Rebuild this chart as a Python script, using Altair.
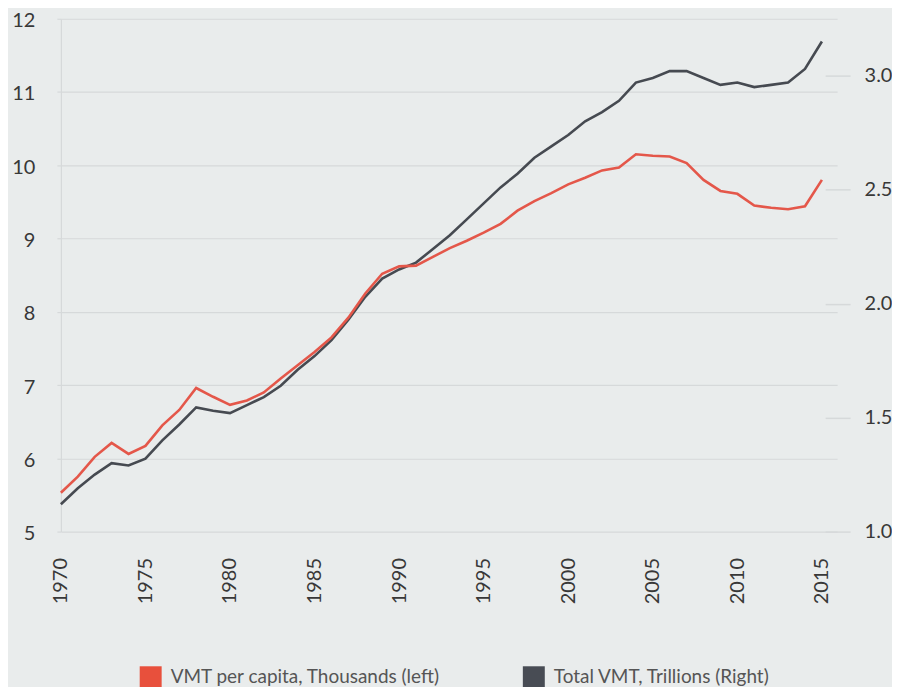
import altair as alt
import pandas as pd

years = [1970, 1971, 1972, 1973, 1974, 1975, 1976, 1977, 1978, 1979,
         1980, 1981, 1982, 1983, 1984, 1985, 1986, 1987, 1988, 1989,
         1990, 1991, 1992, 1993, 1994, 1995, 1996, 1997, 1998, 1999,
         2000, 2001, 2002, 2003, 2004, 2005, 2006, 2007, 2008, 2009,
         2010, 2011, 2012, 2013, 2014, 2015]

vmt_per_capita = [5.53, 5.75, 6.02, 6.21, 6.06, 6.17, 6.45, 6.66, 6.96, 6.84,
                  6.73, 6.79, 6.90, 7.09, 7.27, 7.45, 7.65, 7.92, 8.25, 8.52,
                  8.62, 8.63, 8.75, 8.87, 8.97, 9.08, 9.20, 9.38, 9.51, 9.62,
                  9.74, 9.83, 9.93, 9.97, 10.15, 10.13, 10.12, 10.03, 9.80, 9.65,
                  9.61, 9.45, 9.42, 9.40, 9.44, 9.80]

vmt_total = [1.12, 1.19, 1.25, 1.30, 1.29, 1.32, 1.40, 1.47, 1.545, 1.53,
             1.52, 1.555, 1.59, 1.64, 1.71, 1.77, 1.84, 1.93, 2.03, 2.11,
             2.15, 2.18, 2.24, 2.30, 2.37, 2.44, 2.51, 2.57, 2.64, 2.69,
             2.74, 2.80, 2.84, 2.89, 2.97, 2.99, 3.02, 3.02, 2.99, 2.96,
             2.97, 2.95, 2.96, 2.97, 3.03, 3.15]

series_names = ["VMT per capita, Thousands (left)", "Total VMT, Trillions (Right)"]
series_colors = ["#e8503c", "#484c54"]

x_ticks = [1970, 1975, 1980, 1985, 1990, 1995, 2000, 2005, 2010, 2015]
left_ticks = [5, 6, 7, 8, 9, 10, 11, 12]
right_ticks = [1.0, 1.5, 2.0, 2.5, 3.0]

df = pd.DataFrame({"year": years, "percap": vmt_per_capita, "total": vmt_total})
legend_df = pd.DataFrame({"series": series_names})

FONT = "Lato"
GRID = "#d6d9da"
RED_LINE = "#e4574a"
DARK_LINE = "#464a51"

x_enc = alt.X(
    "year:Q",
    scale=alt.Scale(domain=[1970, 2015.9], nice=False, zero=False),
    axis=alt.Axis(values=x_ticks, format="d", labelAngle=270, tickSize=0,
                  labelPadding=26, domain=False, grid=False, title=None),
)

dark = alt.Chart(df).mark_line(color=DARK_LINE, strokeWidth=2.6).encode(
    x=x_enc,
    y=alt.Y("total:Q",
            scale=alt.Scale(domain=[1.0, 3.25], nice=False, zero=False),
            axis=alt.Axis(orient="right", values=right_ticks, format=".1f",
                          tickSize=25, offset=-12, tickColor=GRID, tickWidth=1.5,
                          labelPadding=14, domain=False, grid=False, title=None)),
)

red = alt.Chart(df).mark_line(color=RED_LINE, strokeWidth=2.6).encode(
    x=x_enc,
    y=alt.Y("percap:Q",
            scale=alt.Scale(domain=[5, 12], nice=False, zero=False),
            axis=alt.Axis(orient="left", values=left_ticks, format="d",
                          tickSize=4, tickColor=GRID, tickWidth=1.2,
                          labelPadding=22, labelOffset=2, domain=True,
                          domainColor=GRID, domainWidth=1.2, grid=True,
                          gridColor=GRID, gridWidth=1.2, title=None)),
)

legend_layer = alt.Chart(legend_df).mark_square(opacity=0, size=10).encode(
    color=alt.Color("series:N",
                    scale=alt.Scale(domain=series_names, range=series_colors),
                    sort=series_names,
                    legend=alt.Legend(orient="none", legendX=79, legendY=649,
                                      direction="horizontal", title=None,
                                      symbolType="square", symbolSize=484,
                                      symbolOpacity=1, symbolStrokeWidth=0,
                                      labelFont=FONT, labelFontSize=19,
                                      labelColor="#555555", labelOffset=9,
                                      columnPadding=82, padding=0,
                                      labelLimit=400)),
)

chart = alt.layer(dark, red, legend_layer).resolve_scale(
    y="independent"
).properties(
    width=778,
    height=514,
    background="#e9ecec",
    autosize=alt.AutoSizeParams(type="none"),
    padding={"left": 53, "top": 10, "right": 55, "bottom": 155},
).configure_view(
    stroke=None
).configure_axis(
    labelFont=FONT,
    labelFontSize=20,
    labelColor="#383838",
)

chart.save("out.html", embed_options={"renderer": "svg", "actions": False})
